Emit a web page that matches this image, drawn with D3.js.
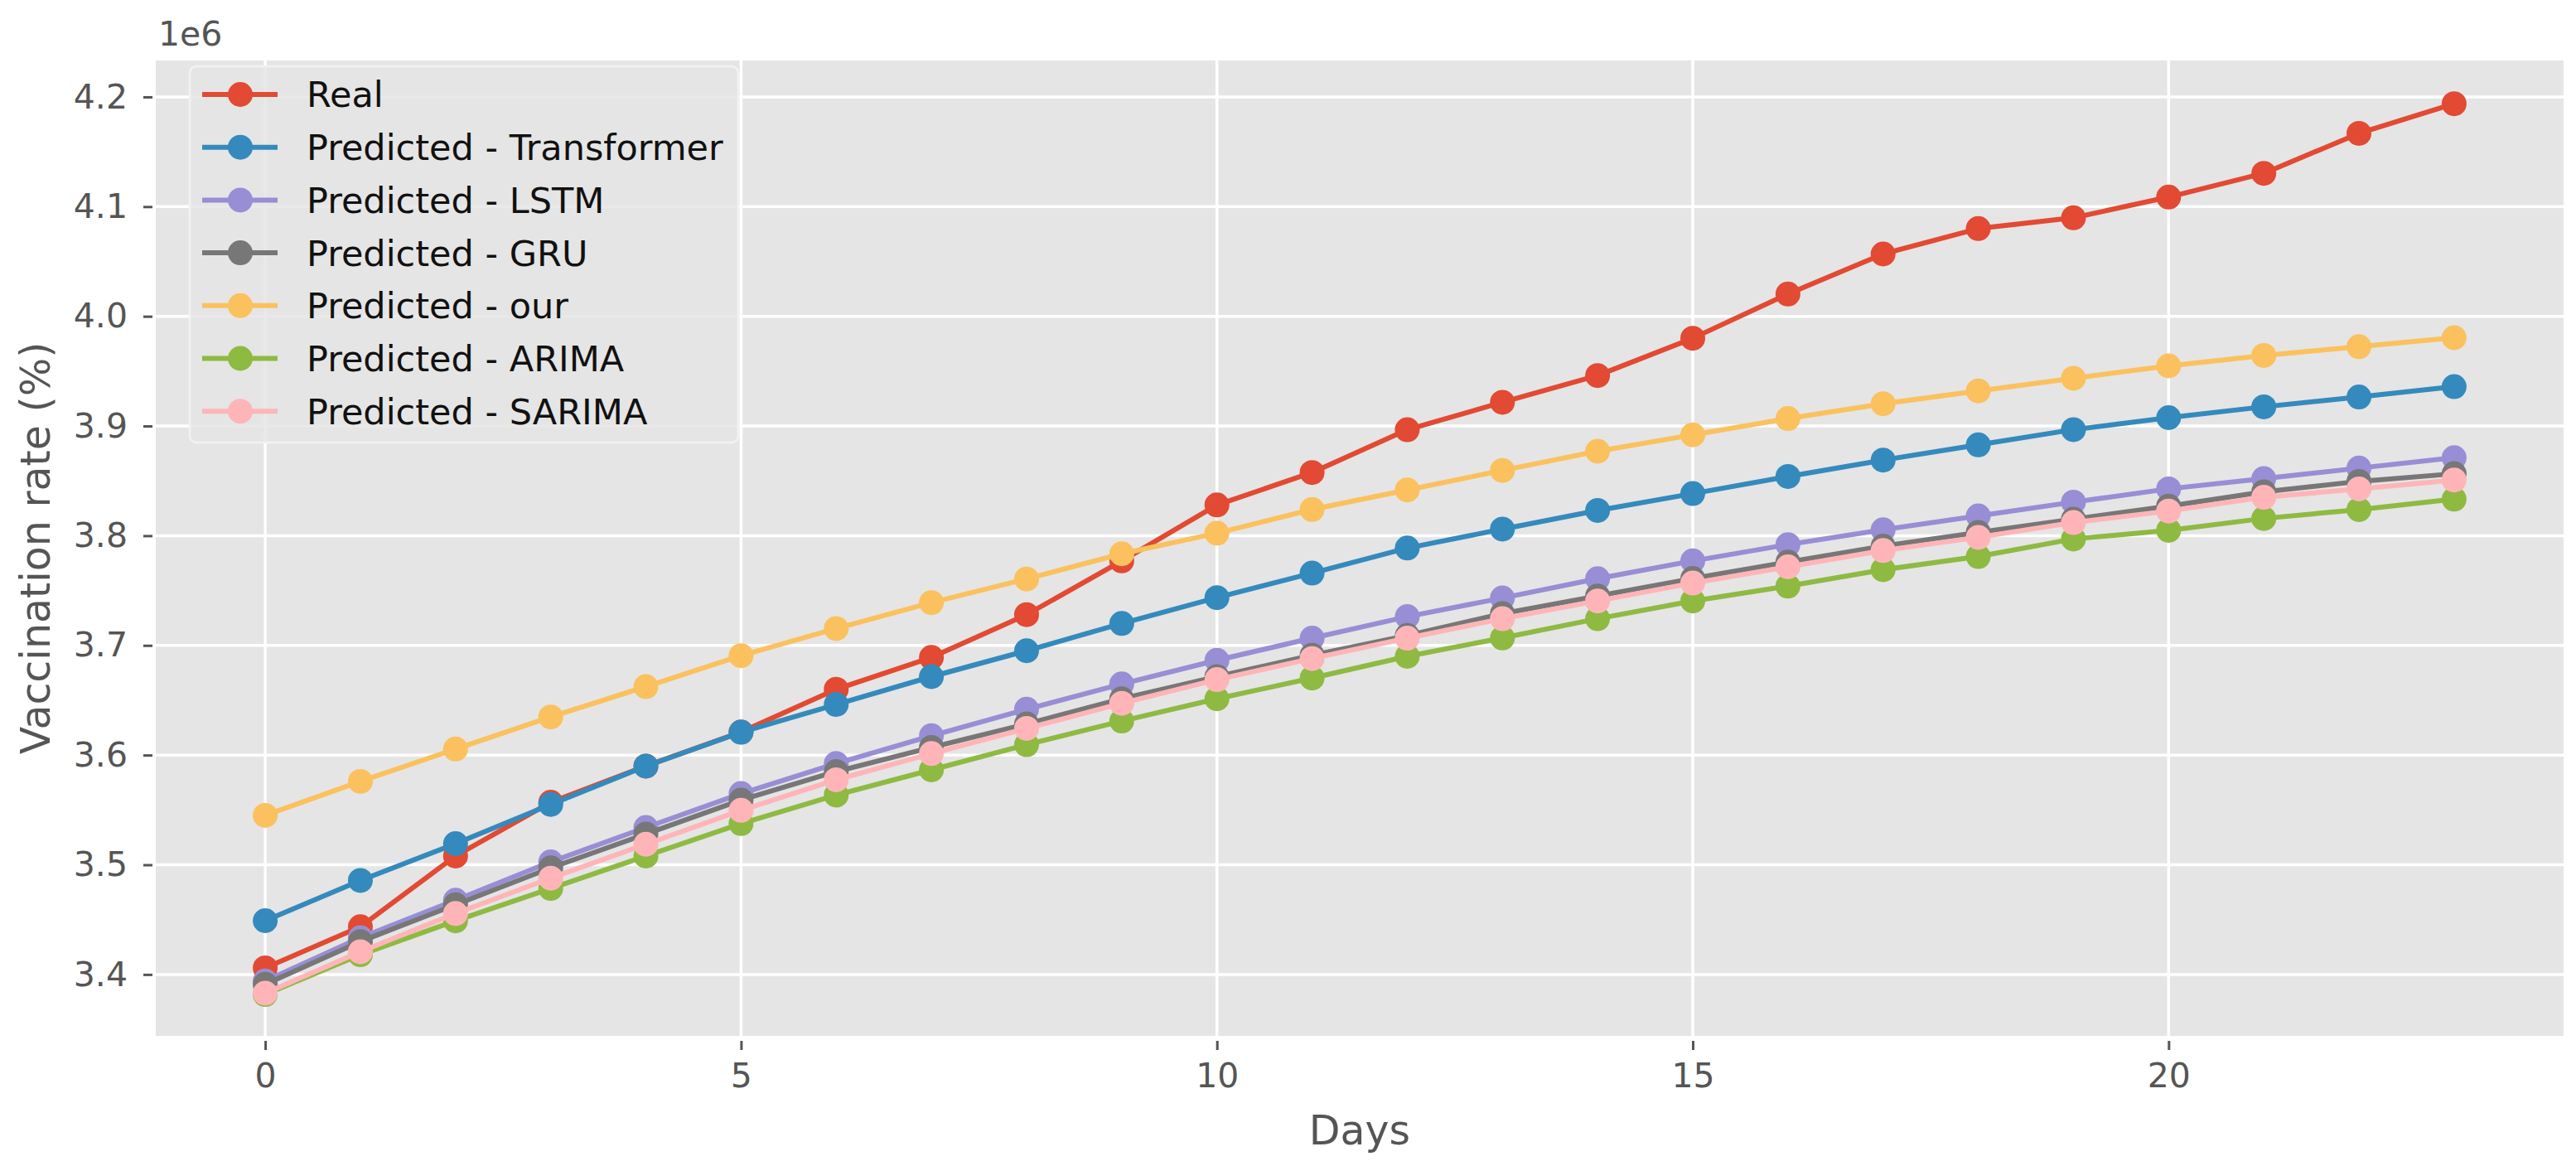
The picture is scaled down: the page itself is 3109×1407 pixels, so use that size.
<!DOCTYPE html>
<html>
<head>
<meta charset="utf-8">
<script src="https://cdn.jsdelivr.net/npm/d3@7"></script>
<style>
  html, body { margin: 0; padding: 0; background: #ffffff; }
  svg { display: block; }
  text { font-family: "DejaVu Sans", sans-serif; }
</style>
</head>
<body>
<svg id="chart" width="3109" height="1407"></svg>
<script>
// ---- Data (values in units of 1e6) ----
const days = d3.range(0, 24);
const real        = [3.406, 3.4435, 3.508, 3.557, 3.590, 3.621, 3.660, 3.689, 3.728, 3.777, 3.828, 3.8576, 3.8966, 3.9216, 3.946, 3.980, 4.0203, 4.0568, 4.080, 4.0898, 4.1087, 4.1303, 4.1668, 4.1938];
const transformer = [3.449, 3.4857, 3.5192, 3.555, 3.5899, 3.6208, 3.6461, 3.6715, 3.6951, 3.720, 3.7435, 3.7659, 3.7887, 3.806, 3.823, 3.8384, 3.854, 3.8689, 3.8828, 3.8967, 3.9076, 3.9175, 3.9264, 3.9359];
const lstm        = [3.394, 3.4335, 3.4677, 3.5026, 3.534, 3.5649, 3.5923, 3.6176, 3.6418, 3.6648, 3.6864, 3.7066, 3.7262, 3.7432, 3.7608, 3.777, 3.7919, 3.8054, 3.818, 3.8306, 3.8427, 3.852, 3.8616, 3.8711];
const gru         = [3.391, 3.430, 3.4636, 3.4972, 3.528, 3.559, 3.585, 3.607, 3.6284, 3.6513, 3.6715, 3.691, 3.709, 3.729, 3.745, 3.761, 3.776, 3.7905, 3.803, 3.8150, 3.8270, 3.8400, 3.8495, 3.8565];
const ours        = [3.545, 3.576, 3.6055, 3.6347, 3.6624, 3.6906, 3.7154, 3.739, 3.7605, 3.7835, 3.8023, 3.8239, 3.8417, 3.8595, 3.877, 3.8919, 3.9068, 3.9203, 3.932, 3.9435, 3.9548, 3.9643, 3.9723, 3.9805];
const arima       = [3.3817, 3.418, 3.4489, 3.4784, 3.508, 3.5375, 3.5635, 3.5865, 3.6095, 3.631, 3.6513, 3.6702, 3.690, 3.7068, 3.7243, 3.7405, 3.754, 3.769, 3.781, 3.797, 3.8049, 3.8157, 3.8238, 3.8333];
const sarima      = [3.383, 3.4207, 3.4556, 3.4878, 3.5187, 3.5496, 3.5775, 3.6014, 3.6243, 3.6472, 3.6688, 3.688, 3.7066, 3.7243, 3.7405, 3.7568, 3.7716, 3.7865, 3.7985, 3.812, 3.8225, 3.835, 3.8427, 3.8508];

const seriesNames = ["Real", "Predicted - Transformer", "Predicted - LSTM", "Predicted - GRU", "Predicted - our", "Predicted - ARIMA", "Predicted - SARIMA"];
const seriesColors = ["#E24A33", "#348ABD", "#988ED5", "#777777", "#FBC15E", "#8EBA42", "#FFB5B8"];
const seriesValues = [real, transformer, lstm, gru, ours, arima, sarima];

const xTicks = [0, 5, 10, 15, 20];
const yTicks = [3.4, 3.5, 3.6, 3.7, 3.8, 3.9, 4.0, 4.1, 4.2];
const xLabel = "Days";
const yLabel = "Vaccination rate (%)";
const offsetLabel = "1e6";

// ---- Layout ----
const svg = d3.select("#chart");
const plot = { left: 188, right: 3094, top: 73, bottom: 1250 };

const x = d3.scaleLinear().domain([-1.15, 24.15]).range([plot.left, plot.right]);
const y = d3.scaleLinear().domain([3.344, 4.2332]).range([plot.bottom, plot.top]);

const tickFont = 41, legendFont = 43, labelFont = 49, textGray = "#555555";

// background
svg.append("rect")
  .attr("x", x(-1.15)).attr("y", y(4.2332))
  .attr("width", x(24.15) - x(-1.15)).attr("height", y(3.344) - y(4.2332))
  .attr("fill", "#E5E5E5");

// grid
const grid = svg.append("g").attr("stroke", "#ffffff").attr("stroke-width", 3.5);
grid.selectAll("line.gx").data(xTicks).join("line")
  .attr("x1", d => x(d)).attr("x2", d => x(d))
  .attr("y1", plot.top).attr("y2", plot.bottom);
grid.selectAll("line.gy").data(yTicks).join("line")
  .attr("x1", plot.left).attr("x2", plot.right)
  .attr("y1", d => y(d)).attr("y2", d => y(d));

// axes via d3 axis generators
const xAxis = d3.axisBottom(x).tickValues(xTicks).tickFormat(d3.format("d")).tickSize(11).tickPadding(16);
const yAxis = d3.axisLeft(y).tickValues(yTicks).tickFormat(d3.format(".1f")).tickSize(11).tickPadding(19);

const gx = svg.append("g").attr("transform", `translate(0,${plot.bottom + 6})`).call(xAxis);
const gy = svg.append("g").attr("transform", `translate(${plot.left - 4},0)`).call(yAxis);
[gx, gy].forEach(g => {
  g.select(".domain").remove();
  g.selectAll(".tick line").attr("stroke", textGray).attr("stroke-width", 3);
  g.selectAll(".tick text").attr("fill", textGray).attr("font-size", tickFont)
    .attr("font-family", "DejaVu Sans");
});

// axis labels
svg.append("text")
  .attr("x", (plot.left + plot.right) / 2).attr("y", 1381)
  .attr("text-anchor", "middle").attr("font-size", labelFont).attr("fill", textGray)
  .text(xLabel);
svg.append("text")
  .attr("transform", `translate(60,${(plot.top + plot.bottom) / 2}) rotate(-90)`)
  .attr("text-anchor", "middle").attr("font-size", labelFont).attr("fill", textGray)
  .text(yLabel);
svg.append("text")
  .attr("x", 191).attr("y", 55)
  .attr("font-size", tickFont).attr("fill", textGray)
  .text(offsetLabel);

// series
const line = d3.line().x((d, i) => x(days[i])).y(d => y(d));
const series = seriesValues.map((vals, k) => ({ name: seriesNames[k], color: seriesColors[k], values: vals }));
const sg = svg.append("g");
series.forEach(s => {
  const g = sg.append("g");
  g.append("path").datum(s.values).attr("d", line)
    .attr("fill", "none").attr("stroke", s.color).attr("stroke-width", 6)
    .attr("stroke-linejoin", "round");
  g.selectAll("circle").data(s.values).join("circle")
    .attr("cx", (d, i) => x(days[i])).attr("cy", d => y(d))
    .attr("r", 15).attr("fill", s.color);
});

// legend
const leg = { x: 229, y: 80, w: 662, h: 454, row0: 114, rowStep: 63.7, hx1: 244, hx2: 335, hm: 290, tx: 370 };
svg.append("rect")
  .attr("x", leg.x).attr("y", leg.y).attr("width", leg.w).attr("height", leg.h)
  .attr("rx", 8).attr("ry", 8)
  .attr("fill", "#E5E5E5").attr("fill-opacity", 0.85)
  .attr("stroke", "#F2F2F2").attr("stroke-width", 2.5);
const lg = svg.append("g").selectAll("g").data(series).join("g")
  .attr("transform", (d, i) => `translate(0,${leg.row0 + i * leg.rowStep})`);
lg.append("line").attr("x1", leg.hx1).attr("x2", leg.hx2).attr("y1", 0).attr("y2", 0)
  .attr("stroke", d => d.color).attr("stroke-width", 6);
lg.append("circle").attr("cx", leg.hm).attr("cy", 0).attr("r", 15).attr("fill", d => d.color);
lg.append("text").attr("x", leg.tx).attr("y", 0).attr("dy", "0.36em")
  .attr("font-size", legendFont).attr("fill", "#111111")
  .text(d => d.name);
</script>
</body>
</html>
